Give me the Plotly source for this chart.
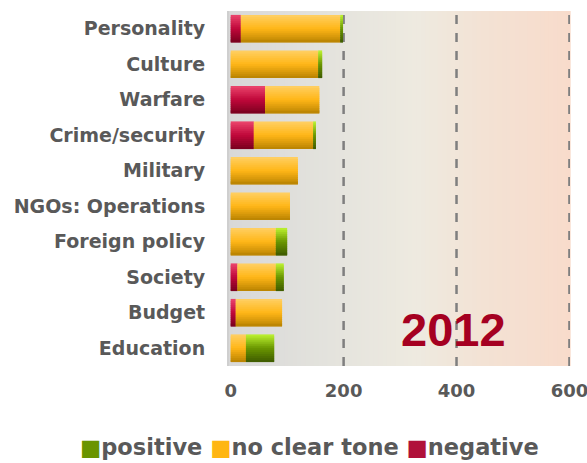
import numpy as np
import plotly.graph_objects as go

categories = ["Personality", "Culture", "Warfare", "Crime/security", "Military",
              "NGOs: Operations", "Foreign policy", "Society", "Budget", "Education"]
negative = [18, 0, 61, 41, 0, 0, 0, 12, 9, 0]
no_clear_tone = [176, 155, 96, 105, 119, 105, 80, 68, 82, 27]
positive = [5, 7, 0, 5, 0, 0, 20, 14, 0, 50]
x_ticks = [0, 200, 400, 600]
grid_values = [200, 400, 600]
year_label = "2012"

neg = np.array(negative, dtype=float)
mid = np.array(no_clear_tone, dtype=float)
pos = np.array(positive, dtype=float)

series = [
    ("negative", neg, np.zeros_like(neg), [(236, 70, 110), (192, 8, 58), (120, 0, 30)], "#b0103a"),
    ("no clear tone", mid, neg, [(255, 208, 100), (255, 182, 24), (184, 130, 0)], "#ffb612"),
    ("positive", pos, neg + mid, [(190, 244, 50), (106, 150, 0), (62, 90, 0)], "#6a9400"),
]

def grad(stops, t):
    if t <= 0.5:
        a, b, u = stops[0], stops[1], t / 0.5
    else:
        a, b, u = stops[1], stops[2], (t - 0.5) / 0.5
    return "rgb(%d,%d,%d)" % tuple(int(round(a[k] + (b[k] - a[k]) * u)) for k in range(3))

fig = go.Figure()
K = 14
bar_w = 0.78
step = bar_w / K
for name, vals, base, stops, solid in series:
    for i in range(K):
        t = (i + 0.5) / K
        w = min(step * 1.8, bar_w - i * step)
        fig.add_trace(go.Bar(
            y=categories, x=vals, base=base, orientation="h",
            width=w, offset=-bar_w / 2 + i * step,
            marker=dict(color=grad(stops, t), line=dict(width=0)),
            showlegend=False, hoverinfo="skip" if i else None, name=name,
        ))

shapes = []
# background gradient
N = 80
bg_stops = [(0.0, (216, 216, 216)), (0.35, (230, 229, 222)), (0.55, (238, 234, 224)),
            (0.75, (243, 226, 212)), (1.0, (248, 219, 203))]
def bg_col(t):
    for (t0, c0), (t1, c1) in zip(bg_stops[:-1], bg_stops[1:]):
        if t0 <= t <= t1:
            u = (t - t0) / (t1 - t0)
            return "rgb(%d,%d,%d)" % tuple(int(round(c0[k] + (c1[k] - c0[k]) * u)) for k in range(3))
    return "rgb(248,219,203)"
for i in range(N):
    shapes.append(dict(type="rect", xref="x domain", yref="y domain",
                       x0=i / N, x1=(i + 1) / N + 0.002, y0=0, y1=1,
                       fillcolor=bg_col((i + 0.5) / N), line=dict(width=0), layer="below"))
for g in grid_values:
    shapes.append(dict(type="line", xref="x", yref="y domain", x0=g, x1=g, y0=0, y1=1,
                       line=dict(color="#7f7f7f", width=2.5, dash="9px,9px"), layer="below"))

legend_text = ("<span style='color:#6a9400'>■</span>positive "
               "<span style='color:#ffb612'>■</span>no clear tone "
               "<span style='color:#b0103a'>■</span>negative")

fig.update_layout(
    width=587, height=463,
    margin=dict(l=229, r=17, t=11, b=97),
    paper_bgcolor="white", plot_bgcolor="#d8d8d8",
    barmode="overlay", showlegend=False,
    shapes=shapes,
    xaxis=dict(range=[-3, 601], tickvals=x_ticks, showgrid=False, zeroline=False,
               ticks="", ticklabelstandoff=12, automargin=False, ticklabeloverflow="allow",
               tickfont=dict(family="DejaVu Sans", size=18, color="#595959", weight="bold")),
    yaxis=dict(categoryorder="array", categoryarray=categories, autorange="reversed",
               showgrid=False, zeroline=False, ticks="", ticklabelstandoff=18,
               showline=True, linecolor="#cfcfcf", linewidth=2, automargin=False,
               tickfont=dict(family="DejaVu Sans", size=19, color="#595959", weight="bold")),
    annotations=[
        dict(text=year_label, x=395, xref="x", y=0.104, yref="paper",
             showarrow=False, xanchor="center", yanchor="middle",
             font=dict(family="Liberation Sans", size=47, color="#a50021", weight="bold")),
        dict(text=legend_text, x=0.235, xref="paper", y=-0.228, yref="paper",
             showarrow=False, xanchor="center", yanchor="middle",
             font=dict(family="DejaVu Sans", size=22.5, color="#595959", weight="bold")),
    ],
)

fig.write_html("out.html", post_script="document.body.style.margin='0px';",
               config={"displayModeBar": False})
